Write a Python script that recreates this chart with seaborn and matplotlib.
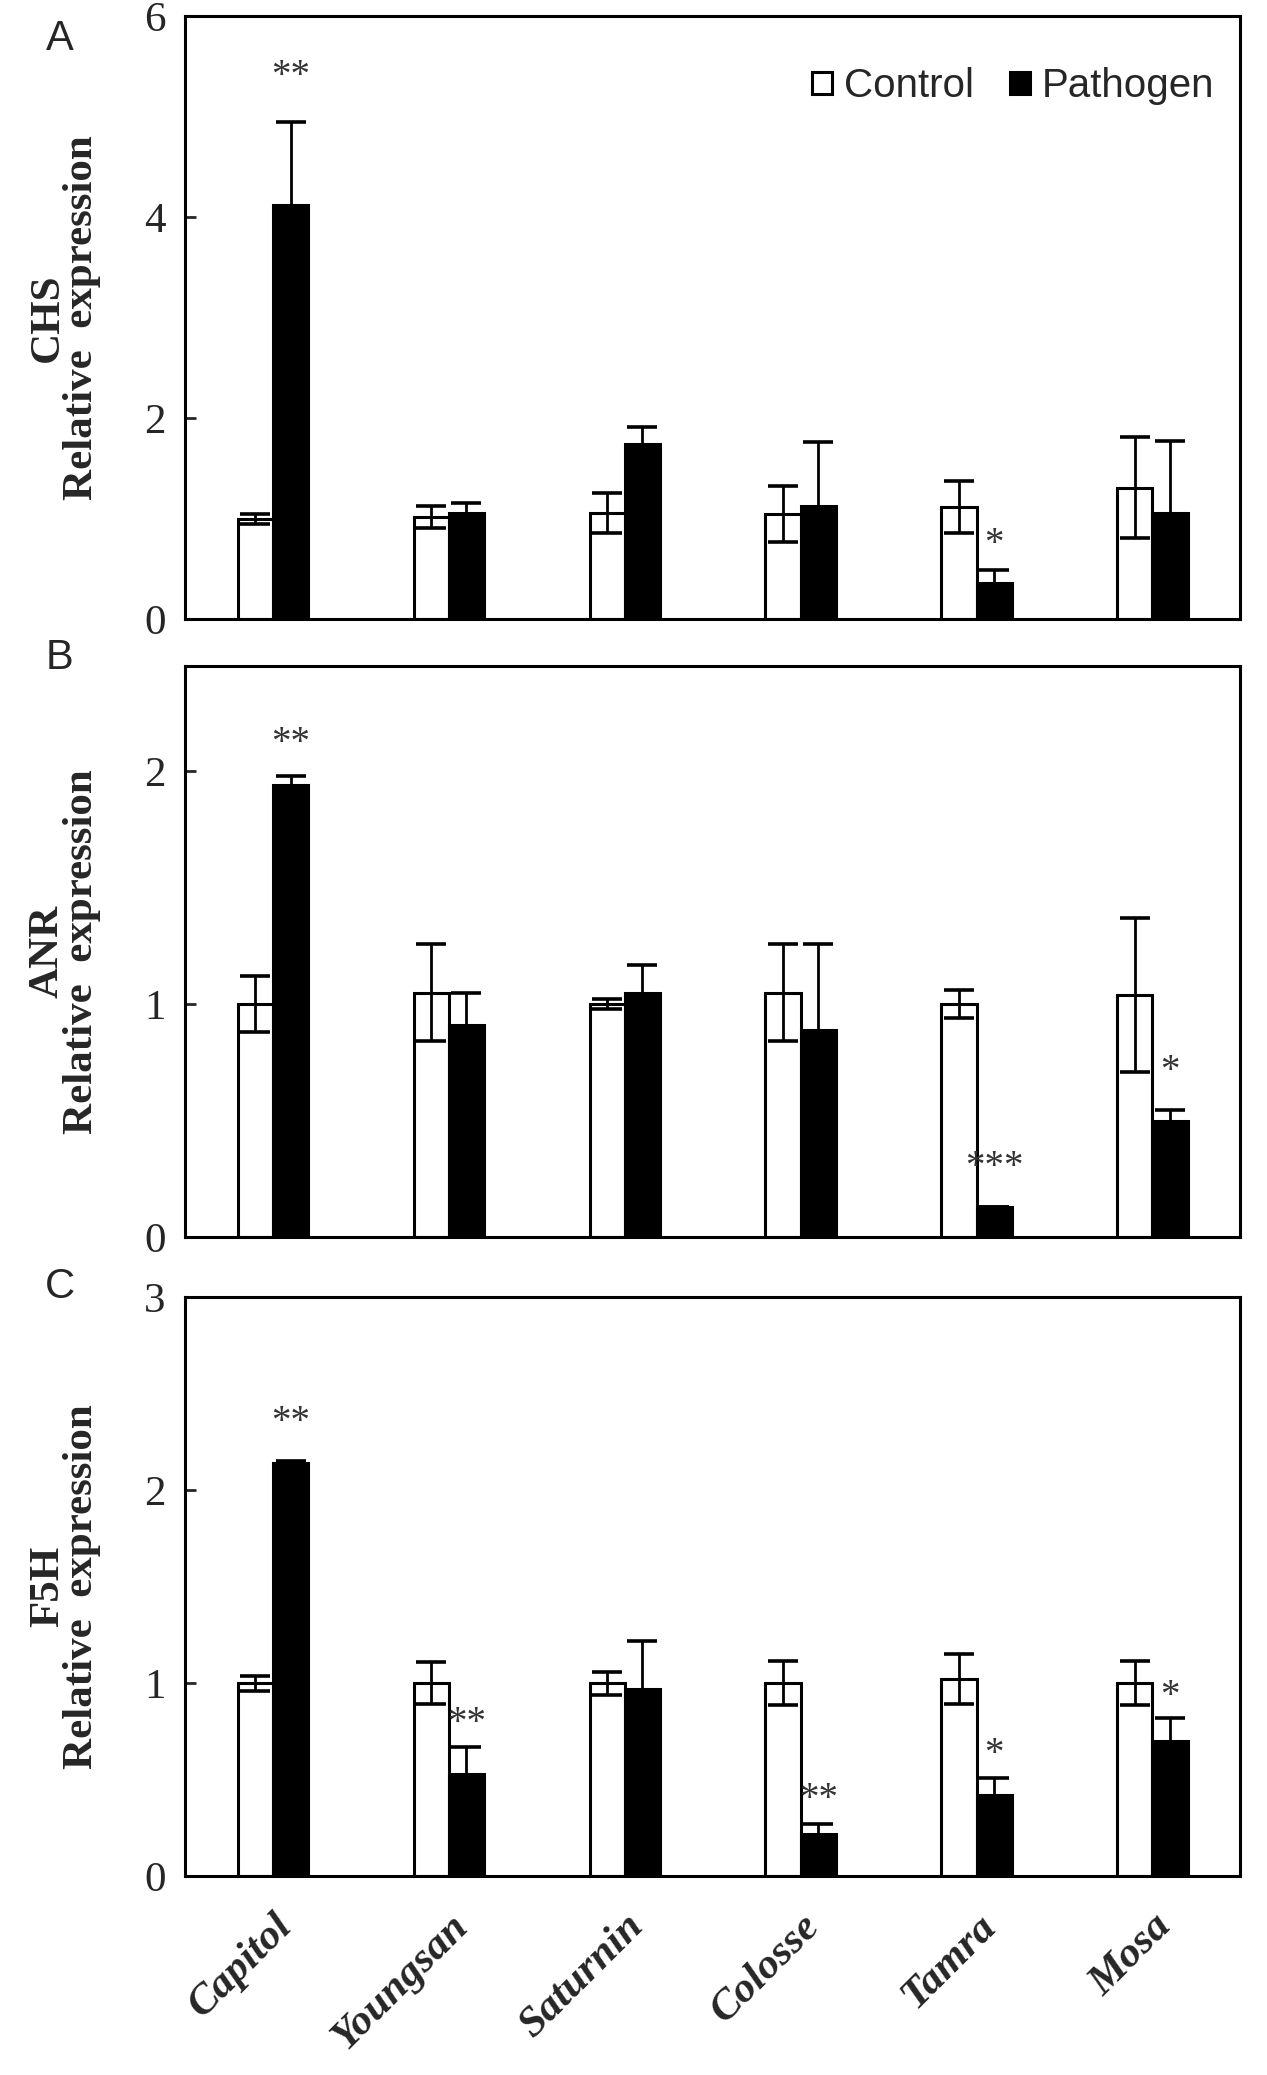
import pandas as pd
import matplotlib
matplotlib.use('Agg')
import matplotlib.pyplot as plt
import seaborn as sns

# values
cultivars = ['Capitol', 'Youngsan', 'Saturnin', 'Colosse', 'Tamra', 'Mosa']
treatments = ['Control', 'Pathogen']

chs_control = [1.00, 1.02, 1.06, 1.05, 1.12, 1.31]
chs_control_err = [0.05, 0.11, 0.20, 0.28, 0.26, 0.50]
chs_pathogen = [4.12, 1.06, 1.74, 1.13, 0.36, 1.06]
chs_pathogen_err = [0.83, 0.10, 0.17, 0.63, 0.13, 0.71]

anr_control = [1.00, 1.05, 1.00, 1.05, 1.00, 1.04]
anr_control_err = [0.12, 0.21, 0.02, 0.21, 0.06, 0.33]
anr_pathogen = [1.94, 0.91, 1.05, 0.89, 0.13, 0.50]
anr_pathogen_err = [0.04, 0.14, 0.12, 0.37, 0.0, 0.045]

f5h_control = [1.00, 1.00, 1.00, 1.00, 1.02, 1.00]
f5h_control_err = [0.04, 0.11, 0.06, 0.115, 0.13, 0.115]
f5h_pathogen = [2.14, 0.53, 0.97, 0.22, 0.42, 0.70]
f5h_pathogen_err = [0.01, 0.14, 0.25, 0.05, 0.09, 0.12]

# significance marks: (cultivar index, text, y position)
chs_stars = [(0, '**', 5.40), (4, '*', 0.74)]
anr_stars = [(0, '**', 2.12), (4, '***', 0.30), (5, '*', 0.71)]
f5h_stars = [(0, '**', 2.35), (1, '**', 0.79), (3, '**', 0.40), (4, '*', 0.63), (5, '*', 0.93)]

panels = [
    ('A', 'CHS', chs_control, chs_control_err, chs_pathogen, chs_pathogen_err, chs_stars, 6, [0, 2, 4, 6]),
    ('B', 'ANR', anr_control, anr_control_err, anr_pathogen, anr_pathogen_err, anr_stars, 2.45, [0, 1, 2]),
    ('C', 'F5H', f5h_control, f5h_control_err, f5h_pathogen, f5h_pathogen_err, f5h_stars, 3, [0, 1, 2, 3]),
]

sns.set_style('ticks')
plt.rcParams['font.family'] = ['Liberation Serif', 'DejaVu Serif']

fig = plt.figure(figsize=(12.67, 20.75), dpi=100)
boxes = [(0.7015, 0.2908), (0.4037, 0.2753), (0.0957, 0.2793)]
letter_y = [0.981, 0.683, 0.380]

for i, (letter, gene, ctl, ctl_err, pat, pat_err, stars, ymax, yticks) in enumerate(panels):
    ax = fig.add_axes([0.146, boxes[i][0], 0.833, boxes[i][1]])
    df = pd.DataFrame({
        'cultivar': cultivars * 2,
        'treatment': ['Control'] * 6 + ['Pathogen'] * 6,
        'value': ctl + pat,
    })
    sns.barplot(data=df, x='cultivar', y='value', hue='treatment',
                order=cultivars, hue_order=treatments,
                palette={'Control': 'white', 'Pathogen': 'black'},
                edgecolor='black', linewidth=2.2, width=0.4, gap=0,
                errorbar=None, legend=(i == 0), ax=ax)

    for cont, vals, errs in zip(ax.containers, [ctl, pat], [ctl_err, pat_err]):
        xs = [b.get_x() + b.get_width() / 2 for b in cont]
        ax.errorbar(xs, vals, yerr=errs, fmt='none', ecolor='black',
                    elinewidth=2, capsize=11, capthick=2.6, zorder=5)

    for idx, txt, y in stars:
        ax.text(idx + 0.1, y, txt, ha='center', va='center',
                fontsize=28, color='#333333')

    ax.set_xlim(-0.5, 5.5)
    ax.set_ylim(0, ymax)
    ax.set_yticks(yticks)
    ax.set_yticklabels([str(t) for t in yticks], fontsize=31)
    ax.tick_params(axis='y', direction='in', length=8, width=2, pad=14)
    ax.tick_params(axis='x', length=0)
    for sp in ax.spines.values():
        sp.set_visible(True)
        sp.set_linewidth(2.2)
        sp.set_color('black')

    ax.set_xlabel('')
    ax.set_ylabel(gene + '\nRelative  expression', fontsize=31,
                  fontweight='bold', linespacing=0.85)
    ax.yaxis.set_label_coords(-0.08, 0.5)

    if i < 2:
        ax.set_xticklabels([])
    else:
        ax.set_xticks(range(len(cultivars)))
        ax.set_xticklabels(cultivars, rotation=45, ha='right',
                           rotation_mode='anchor', fontsize=31,
                           fontweight='bold', fontstyle='italic')
        ax.tick_params(axis='x', pad=22)

    if i == 0:
        handles, labels = ax.get_legend_handles_labels()
        ax.legend(handles, labels, loc='upper right', ncol=2, frameon=False,
                  bbox_to_anchor=(1.01, 0.975), handlelength=0.5,
                  handleheight=0.5, handletextpad=0.3, columnspacing=0.9,
                  prop={'family': 'Liberation Sans', 'size': 29})

    fig.text(0.047, letter_y[i], letter, ha='center', va='center',
             fontsize=30, family='Liberation Sans')

fig.savefig('out.png', dpi=100)
